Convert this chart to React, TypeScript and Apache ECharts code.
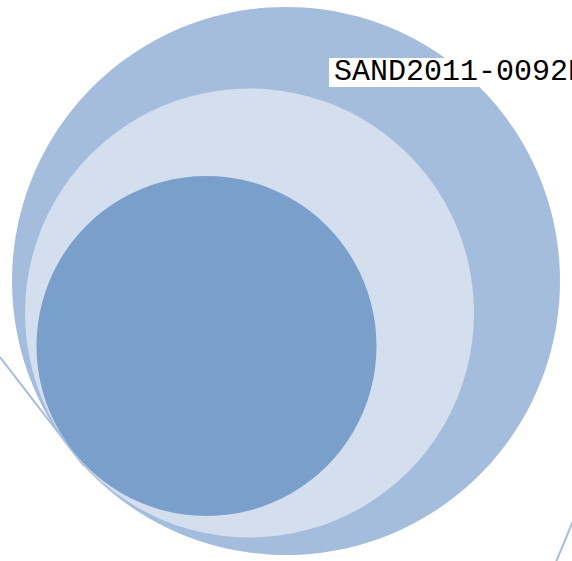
import React, { useEffect, useRef } from "react";
import * as echarts from "echarts";

// circles: [centerX, centerY, radius]
const circleNames = ["outer", "middle", "inner"];
const circleCx = [286, 249.5, 206.5];
const circleCy = [281, 313, 346];
const circleR = [274, 224.5, 170];
const circleColors = ["#a5bddd", "#d3deee", "#7a9fcb"];

// decorative lines: [x1, y1, x2, y2]
const lineSegments = [
  [0, 357, 84, 466],
  [573, 521, 556, 562],
];

const labelText = "SAND2011-0092P";

export default function App() {
  const ref = useRef<HTMLDivElement>(null);
  useEffect(() => {
    if (!ref.current) return;
    const chart = echarts.init(ref.current, null, { renderer: "svg" });
    const elements: any[] = [];
    lineSegments.forEach((s) => {
      elements.push({
        type: "line",
        shape: { x1: s[0], y1: s[1], x2: s[2], y2: s[3] },
        style: { stroke: "#a5bddd", lineWidth: 2 },
        z: 1,
      });
    });
    circleNames.forEach((n, i) => {
      elements.push({
        type: "circle",
        id: n,
        shape: { cx: circleCx[i], cy: circleCy[i], r: circleR[i] },
        style: { fill: circleColors[i] },
        z: 2 + i,
      });
    });
    elements.push({
      type: "rect",
      shape: { x: 329, y: 58, width: 260, height: 29 },
      style: { fill: "#ffffff" },
      z: 10,
    });
    elements.push({
      type: "text",
      x: 334,
      y: 72,
      style: {
        text: labelText,
        fill: "#000000",
        font: "normal 30px 'Liberation Mono', 'Courier New', monospace",
        verticalAlign: "middle",
        align: "left",
      },
      z: 11,
    });
    chart.setOption({
      animation: false,
      backgroundColor: "#ffffff",
      graphic: { elements },
    });
    return () => chart.dispose();
  }, []);
  return (
    <div
      ref={ref}
      style={{ position: "fixed", left: 0, top: 0, width: 572, height: 561 }}
    />
  );
}
